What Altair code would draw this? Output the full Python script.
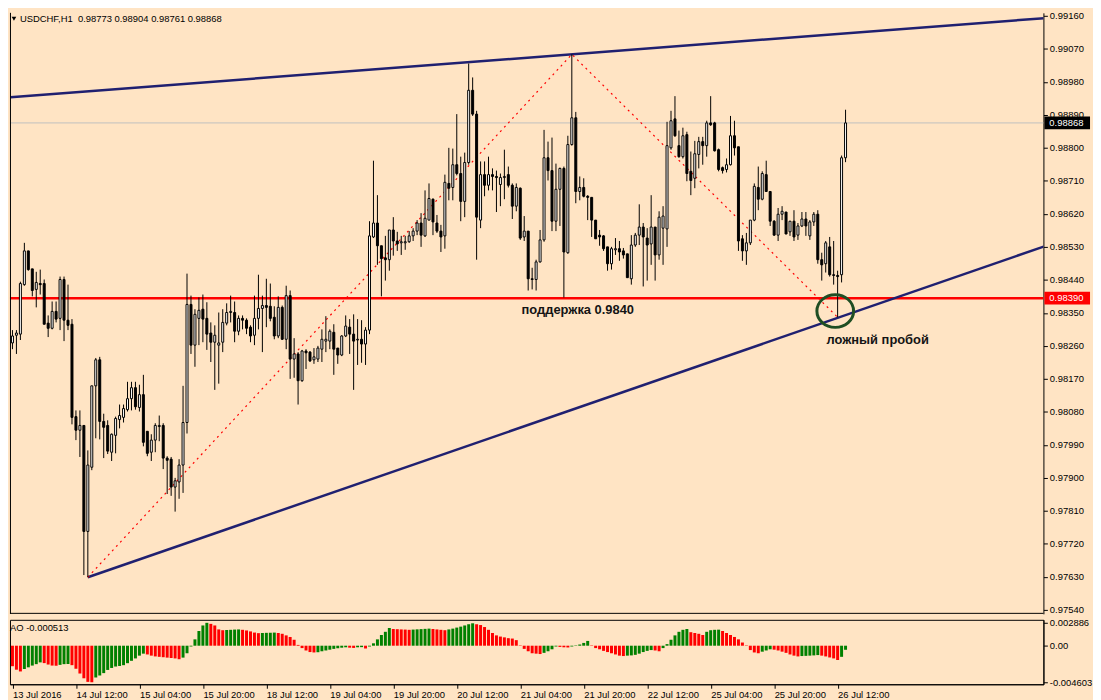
import json
import altair as alt
import pandas as pd

# ---------------- data ----------------
title_text = "USDCHF,H1\u00a0 0.98773 0.98904 0.98761 0.98868"
ao_text = "AO -0.000513"

tick_index = [0, 16, 32, 48, 64, 80, 96, 112, 128, 144, 160, 176, 192, 208]
tick_labels = ["13 Jul 2016", "14 Jul 12:00", "15 Jul 04:00", "15 Jul 20:00",
               "18 Jul 12:00", "19 Jul 04:00", "19 Jul 20:00", "20 Jul 12:00",
               "21 Jul 04:00", "21 Jul 20:00", "22 Jul 12:00", "25 Jul 04:00",
               "25 Jul 20:00", "26 Jul 12:00"]

price_ticks = [0.97540, 0.97630, 0.97720, 0.97810, 0.97900, 0.97990, 0.98080,
               0.98170, 0.98260, 0.98350, 0.98440, 0.98530, 0.98620, 0.98710,
               0.98800, 0.98890, 0.98980, 0.99070, 0.99160]
ao_ticks = [0.002886, 0.0, -0.004603]
ao_tick_labels = ["0.002886", "0.00", "-0.004603"]

open_ = [
    0.98268, 0.98289, 0.98292, 0.98427, 0.98519, 0.98470, 0.98414, 0.98430, 0.98430, 0.98322,
    0.98308, 0.98354, 0.98335, 0.98441, 0.98330, 0.98319, 0.98067, 0.98030, 0.98043, 0.97754,
    0.97929, 0.98151, 0.98222, 0.98054, 0.98043, 0.97970, 0.98016, 0.98059, 0.98065, 0.98086,
    0.98116, 0.98146, 0.98092, 0.98127, 0.98027, 0.97970, 0.98003, 0.98040, 0.98043, 0.97954,
    0.97951, 0.97875, 0.97889, 0.97935, 0.98051, 0.98373, 0.98262, 0.98335, 0.98360, 0.98335,
    0.98295, 0.98270, 0.98262, 0.98270, 0.98322, 0.98351, 0.98351, 0.98300, 0.98335, 0.98330,
    0.98311, 0.98289, 0.98335, 0.98362, 0.98370, 0.98368, 0.98338, 0.98287, 0.98365, 0.98278,
    0.98397, 0.98224, 0.98238, 0.98165, 0.98246, 0.98243, 0.98222, 0.98224, 0.98251, 0.98273,
    0.98273, 0.98297, 0.98254, 0.98235, 0.98287, 0.98311, 0.98292, 0.98276, 0.98278, 0.98265,
    0.98303, 0.98557, 0.98595, 0.98533, 0.98500, 0.98495, 0.98576, 0.98546, 0.98541, 0.98541,
    0.98544, 0.98560, 0.98573, 0.98595, 0.98560, 0.98603, 0.98660, 0.98595, 0.98573, 0.98560,
    0.98703, 0.98692, 0.98754, 0.98730, 0.98654, 0.98760, 0.98957, 0.98892, 0.98603, 0.98727,
    0.98698, 0.98727, 0.98722, 0.98700, 0.98719, 0.98727, 0.98698, 0.98641, 0.98690, 0.98557,
    0.98573, 0.98443, 0.98441, 0.98489, 0.98549, 0.98773, 0.98738, 0.98600, 0.98687, 0.98744,
    0.98514, 0.98809, 0.98882, 0.98681, 0.98692, 0.98668, 0.98665, 0.98603, 0.98562, 0.98560,
    0.98530, 0.98484, 0.98522, 0.98525, 0.98519, 0.98511, 0.98443, 0.98535, 0.98562, 0.98584,
    0.98554, 0.98538, 0.98584, 0.98508, 0.98581, 0.98579, 0.98800, 0.98879, 0.98806, 0.98776,
    0.98836, 0.98736, 0.98717, 0.98782, 0.98817, 0.98806, 0.98868, 0.98868, 0.98795, 0.98746,
    0.98741, 0.98754, 0.98833, 0.98803, 0.98552, 0.98519, 0.98541, 0.98603, 0.98692, 0.98660,
    0.98727, 0.98681, 0.98600, 0.98562, 0.98619, 0.98625, 0.98571, 0.98600, 0.98562, 0.98587,
    0.98606, 0.98560, 0.98598, 0.98619, 0.98495, 0.98484, 0.98530, 0.98454, 0.98452, 0.98454,
    0.98773]

high = [
    0.98303, 0.98303, 0.98435, 0.98541, 0.98519, 0.98470, 0.98462, 0.98468, 0.98441, 0.98343,
    0.98381, 0.98381, 0.98449, 0.98449, 0.98427, 0.98333, 0.98084, 0.98084, 0.98043, 0.97975,
    0.98151, 0.98227, 0.98230, 0.98075, 0.98057, 0.98021, 0.98067, 0.98100, 0.98100, 0.98162,
    0.98162, 0.98162, 0.98154, 0.98181, 0.98027, 0.98019, 0.98049, 0.98070, 0.98049, 0.97959,
    0.97957, 0.97900, 0.97951, 0.98151, 0.98457, 0.98397, 0.98360, 0.98392, 0.98400, 0.98379,
    0.98324, 0.98316, 0.98351, 0.98360, 0.98376, 0.98397, 0.98381, 0.98343, 0.98343, 0.98335,
    0.98316, 0.98397, 0.98454, 0.98397, 0.98443, 0.98430, 0.98368, 0.98395, 0.98370, 0.98424,
    0.98411, 0.98281, 0.98243, 0.98249, 0.98251, 0.98246, 0.98254, 0.98260, 0.98305, 0.98341,
    0.98305, 0.98319, 0.98254, 0.98289, 0.98343, 0.98333, 0.98346, 0.98333, 0.98330, 0.98311,
    0.98600, 0.98765, 0.98671, 0.98533, 0.98560, 0.98576, 0.98611, 0.98571, 0.98560, 0.98560,
    0.98573, 0.98581, 0.98603, 0.98622, 0.98684, 0.98703, 0.98662, 0.98617, 0.98590, 0.98727,
    0.98800, 0.98798, 0.98892, 0.98776, 0.98787, 0.99030, 0.98992, 0.98901, 0.98763, 0.98763,
    0.98776, 0.98744, 0.98738, 0.98730, 0.98795, 0.98749, 0.98703, 0.98703, 0.98692, 0.98614,
    0.98573, 0.98473, 0.98495, 0.98576, 0.98849, 0.98817, 0.98828, 0.98757, 0.98746, 0.98749,
    0.98833, 0.99055, 0.98898, 0.98722, 0.98717, 0.98671, 0.98665, 0.98603, 0.98576, 0.98562,
    0.98530, 0.98530, 0.98554, 0.98546, 0.98527, 0.98511, 0.98562, 0.98568, 0.98646, 0.98595,
    0.98581, 0.98671, 0.98584, 0.98627, 0.98641, 0.98871, 0.98901, 0.98941, 0.98847, 0.98855,
    0.98844, 0.98790, 0.98819, 0.98830, 0.98830, 0.98874, 0.98941, 0.98871, 0.98798, 0.98749,
    0.98771, 0.98887, 0.98874, 0.98803, 0.98562, 0.98568, 0.98603, 0.98703, 0.98749, 0.98736,
    0.98765, 0.98681, 0.98603, 0.98636, 0.98641, 0.98625, 0.98600, 0.98630, 0.98595, 0.98625,
    0.98625, 0.98603, 0.98625, 0.98630, 0.98514, 0.98546, 0.98557, 0.98546, 0.98465, 0.98779,
    0.98904]

low = [
    0.98251, 0.98238, 0.98276, 0.98424, 0.98465, 0.98395, 0.98365, 0.98400, 0.98319, 0.98284,
    0.98305, 0.98324, 0.98303, 0.98273, 0.98303, 0.98046, 0.98003, 0.97957, 0.97635, 0.97629,
    0.97921, 0.98008, 0.98005, 0.97954, 0.97965, 0.97946, 0.97967, 0.98035, 0.98051, 0.98081,
    0.98084, 0.98086, 0.98081, 0.97986, 0.97959, 0.97946, 0.97970, 0.98000, 0.97924, 0.97856,
    0.97851, 0.97808, 0.97843, 0.97859, 0.98021, 0.98238, 0.98203, 0.98262, 0.98270, 0.98249,
    0.98216, 0.98140, 0.98157, 0.98243, 0.98316, 0.98324, 0.98270, 0.98289, 0.98305, 0.98292,
    0.98270, 0.98262, 0.98305, 0.98243, 0.98311, 0.98327, 0.98278, 0.98281, 0.98276, 0.98251,
    0.98170, 0.98173, 0.98100, 0.98162, 0.98197, 0.98216, 0.98211, 0.98216, 0.98216, 0.98243,
    0.98251, 0.98181, 0.98211, 0.98232, 0.98284, 0.98238, 0.98140, 0.98208, 0.98214, 0.98208,
    0.98292, 0.98554, 0.98481, 0.98395, 0.98438, 0.98465, 0.98506, 0.98519, 0.98508, 0.98522,
    0.98541, 0.98546, 0.98562, 0.98530, 0.98557, 0.98603, 0.98562, 0.98568, 0.98516, 0.98525,
    0.98657, 0.98657, 0.98725, 0.98600, 0.98611, 0.98754, 0.98887, 0.98495, 0.98581, 0.98668,
    0.98684, 0.98684, 0.98625, 0.98641, 0.98660, 0.98692, 0.98606, 0.98627, 0.98549, 0.98546,
    0.98411, 0.98414, 0.98411, 0.98487, 0.98544, 0.98711, 0.98573, 0.98573, 0.98587, 0.98392,
    0.98511, 0.98806, 0.98649, 0.98657, 0.98665, 0.98603, 0.98557, 0.98552, 0.98533, 0.98519,
    0.98465, 0.98468, 0.98508, 0.98492, 0.98498, 0.98446, 0.98427, 0.98530, 0.98535, 0.98422,
    0.98438, 0.98481, 0.98438, 0.98495, 0.98481, 0.98530, 0.98795, 0.98830, 0.98773, 0.98771,
    0.98709, 0.98671, 0.98690, 0.98744, 0.98754, 0.98776, 0.98860, 0.98790, 0.98736, 0.98730,
    0.98733, 0.98752, 0.98779, 0.98519, 0.98492, 0.98481, 0.98535, 0.98600, 0.98630, 0.98657,
    0.98681, 0.98587, 0.98560, 0.98546, 0.98603, 0.98565, 0.98560, 0.98546, 0.98549, 0.98584,
    0.98560, 0.98549, 0.98587, 0.98484, 0.98438, 0.98460, 0.98449, 0.98427, 0.98338, 0.98433,
    0.98761]

close = [
    0.98287, 0.98295, 0.98430, 0.98519, 0.98468, 0.98411, 0.98433, 0.98427, 0.98319, 0.98308,
    0.98354, 0.98333, 0.98441, 0.98330, 0.98316, 0.98065, 0.98030, 0.98043, 0.97754, 0.97935,
    0.98151, 0.98222, 0.98054, 0.98038, 0.97973, 0.98019, 0.98062, 0.98070, 0.98089, 0.98116,
    0.98146, 0.98094, 0.98127, 0.97997, 0.97967, 0.98003, 0.98043, 0.98043, 0.97954, 0.97948,
    0.97875, 0.97892, 0.97935, 0.98051, 0.98373, 0.98262, 0.98346, 0.98357, 0.98333, 0.98292,
    0.98270, 0.98289, 0.98268, 0.98324, 0.98351, 0.98354, 0.98300, 0.98335, 0.98330, 0.98308,
    0.98287, 0.98335, 0.98362, 0.98370, 0.98365, 0.98335, 0.98287, 0.98365, 0.98278, 0.98397,
    0.98224, 0.98238, 0.98165, 0.98246, 0.98241, 0.98219, 0.98230, 0.98254, 0.98278, 0.98278,
    0.98300, 0.98251, 0.98235, 0.98287, 0.98314, 0.98292, 0.98273, 0.98278, 0.98265, 0.98303,
    0.98560, 0.98595, 0.98533, 0.98498, 0.98495, 0.98576, 0.98546, 0.98538, 0.98544, 0.98544,
    0.98560, 0.98573, 0.98595, 0.98562, 0.98608, 0.98662, 0.98598, 0.98573, 0.98557, 0.98706,
    0.98690, 0.98754, 0.98730, 0.98654, 0.98760, 0.98957, 0.98892, 0.98611, 0.98727, 0.98698,
    0.98727, 0.98722, 0.98719, 0.98719, 0.98722, 0.98698, 0.98641, 0.98692, 0.98554, 0.98573,
    0.98443, 0.98441, 0.98489, 0.98549, 0.98773, 0.98738, 0.98600, 0.98687, 0.98744, 0.98516,
    0.98809, 0.98882, 0.98681, 0.98692, 0.98668, 0.98665, 0.98603, 0.98552, 0.98557, 0.98525,
    0.98484, 0.98525, 0.98525, 0.98516, 0.98508, 0.98446, 0.98535, 0.98562, 0.98584, 0.98557,
    0.98535, 0.98584, 0.98508, 0.98611, 0.98614, 0.98806, 0.98874, 0.98833, 0.98776, 0.98833,
    0.98730, 0.98711, 0.98784, 0.98817, 0.98806, 0.98868, 0.98863, 0.98792, 0.98741, 0.98738,
    0.98754, 0.98833, 0.98800, 0.98546, 0.98519, 0.98541, 0.98603, 0.98695, 0.98660, 0.98730,
    0.98681, 0.98600, 0.98562, 0.98619, 0.98627, 0.98565, 0.98600, 0.98557, 0.98587, 0.98606,
    0.98587, 0.98598, 0.98619, 0.98495, 0.98481, 0.98541, 0.98454, 0.98452, 0.98449, 0.98773,
    0.98868]

ao = [
    -0.00258, -0.00302, -0.00324, -0.00293, -0.00272, -0.00250, -0.00232, -0.00210, -0.00219, -0.00237,
    -0.00250, -0.00252, -0.00241, -0.00232, -0.00230, -0.00245, -0.00290, -0.00350, -0.00410, -0.00455,
    -0.00460, -0.00400, -0.00375, -0.00345, -0.00305, -0.00280, -0.00262, -0.00255, -0.00245, -0.00220,
    -0.00190, -0.00160, -0.00125, -0.00100, -0.00110, -0.00125, -0.00135, -0.00140, -0.00145, -0.00150,
    -0.00155, -0.00160, -0.00170, -0.00150, -0.00095, -0.00010, 0.00080, 0.00185, 0.00255, 0.00288,
    0.00275, 0.00255, 0.00205, 0.00195, 0.00198, 0.00200, 0.00203, 0.00205, 0.00200, 0.00192,
    0.00180, 0.00165, 0.00158, 0.00160, 0.00162, 0.00163, 0.00165, 0.00160, 0.00150, 0.00130,
    0.00110, 0.00075, 0.00010, -0.00030, -0.00060, -0.00080, -0.00085, -0.00082, -0.00070, -0.00060,
    -0.00050, -0.00040, -0.00032, -0.00025, -0.00020, -0.00025, -0.00028, -0.00020, -0.00018, -0.00035,
    -0.00010, 0.00030, 0.00080, 0.00135, 0.00175, 0.00223, 0.00210, 0.00208, 0.00205, 0.00203,
    0.00200, 0.00203, 0.00206, 0.00209, 0.00212, 0.00215, 0.00210, 0.00205, 0.00200, 0.00195,
    0.00205, 0.00215, 0.00228, 0.00240, 0.00255, 0.00270, 0.00282, 0.00270, 0.00260, 0.00235,
    0.00200, 0.00160, 0.00130, 0.00115, 0.00105, 0.00095, 0.00090, 0.00070, 0.00005, -0.00040,
    -0.00070, -0.00095, -0.00100, -0.00105, -0.00090, -0.00070, -0.00045, -0.00010, -0.00015, -0.00020,
    -0.00022, -0.00010, 0.00005, 0.00015, 0.00035, 0.00060, 0.00005, -0.00030, -0.00045, -0.00065,
    -0.00080, -0.00095, -0.00110, -0.00125, -0.00130, -0.00125, -0.00122, -0.00115, -0.00100, -0.00080,
    -0.00065, -0.00055, -0.00060, -0.00070, -0.00030, 0.00020, 0.00075, 0.00130, 0.00175, 0.00200,
    0.00210, 0.00170, 0.00160, 0.00150, 0.00135, 0.00175, 0.00195, 0.00200, 0.00202, 0.00185,
    0.00160, 0.00135, 0.00110, 0.00080, 0.00040, 0.00005, -0.00055, -0.00085, -0.00095, -0.00075,
    -0.00060, -0.00045, -0.00050, -0.00060, -0.00075, -0.00090, -0.00110, -0.00125, -0.00135, -0.00130,
    -0.00128, -0.00125, -0.00122, -0.00118, -0.00125, -0.00135, -0.00148, -0.00160, -0.00180, -0.00140,
    -0.000513]

support_level = 0.98390
bid_price = 0.98868

upper_x = [-0.5, 264.0]
upper_p = [0.98938, 0.99157]
lower_x = [19.0, 264.0]
lower_p = [0.97629, 0.98546]
zig_x = [19, 141, 208]
zig_p = [0.97629, 0.99055, 0.98338]
circle_x = [207.4]
circle_p = [0.98355]
note_x = [142.5, 218.1]
note_p = [0.98359, 0.98275]
note_text = ["поддержка 0.9840", "ложный пробой"]

# ---------------- layout ----------------
W = 1042
H_MAIN = 606
H_AO = 65
FONT = "Liberation Sans"
BG = "#FFE4C4"
NAVY = "#202070"

n = len(close)
candles = pd.DataFrame({"idx": list(range(n)), "open": open_, "high": high,
                        "low": low, "close": close})
candles["fill"] = ["white" if c >= o else "black" for o, c in zip(open_, close)]

ao_df = pd.DataFrame({"idx": list(range(n)), "ao": ao})
ao_df["col"] = ["#008000" if (i > 0 and ao[i] > ao[i - 1]) else "#FF0000" for i in range(n)]

xs = alt.Scale(domain=[-0.625, -0.625 + W / 4], nice=False, zero=False, padding=0)
ys = alt.Scale(domain=[0.975292, 0.991682], nice=False, zero=False, padding=0)
y_axis = alt.Axis(orient="right", values=price_ticks, format=".5f", tickSize=4,
                  labelPadding=2, grid=False, title=None, labelOverlap=False)


def X(field):
    return alt.X(field, scale=xs, axis=None)


def Y(field):
    return alt.Y(field, scale=ys, axis=y_axis)


one = pd.DataFrame({"a": [0]})

borders = alt.layer(
    alt.Chart(one).mark_rule(color="black", strokeWidth=1).encode(
        x=alt.value(0.5), y=alt.value(0), y2=alt.value(H_MAIN)),
    alt.Chart(one).mark_rule(color="black", strokeWidth=1).encode(
        x=alt.value(0), x2=alt.value(W), y=alt.value(H_MAIN - 0.5)),
)

bid_line = alt.Chart(pd.DataFrame({"p": [bid_price]})).mark_rule(
    color="#C0C0C0", strokeWidth=1).encode(y=Y("p:Q"))

trend_df = pd.DataFrame({"x": upper_x + lower_x, "p": upper_p + lower_p,
                         "g": ["u", "u", "l", "l"]})
trends = alt.Chart(trend_df).mark_line(color=NAVY, strokeWidth=2.5, clip=True).encode(
    x=X("x:Q"), y=Y("p:Q"), detail="g:N")

zig = alt.Chart(pd.DataFrame({"x": zig_x, "p": zig_p})).mark_line(
    color="#FF0000", strokeWidth=1.2, strokeDash=[2, 4]).encode(x=X("x:Q"), y=Y("p:Q"))

support = alt.Chart(pd.DataFrame({"p": [support_level]})).mark_rule(
    color="#FF0000", strokeWidth=2.5).encode(y=Y("p:Q"))

wicks = alt.Chart(candles).mark_rule(color="black", strokeWidth=1).encode(
    x=X("idx:Q"), y=Y("low:Q"), y2="high:Q")

bodies = alt.Chart(candles).mark_bar(size=2, stroke="black", strokeWidth=1).encode(
    x=X("idx:Q"), y=Y("open:Q"), y2="close:Q", fill=alt.Fill("fill:N", scale=None))

ellipse = "M-1,0A1,0.89,0,1,1,1,0A1,0.89,0,1,1,-1,0Z"
circle = alt.Chart(pd.DataFrame({"x": circle_x, "p": circle_p})).mark_point(
    shape=ellipse, size=1369, filled=False, color="#1F4E23", strokeWidth=3,
    opacity=1).encode(x=X("x:Q"), y=Y("p:Q"))

notes = alt.Chart(pd.DataFrame({"x": note_x, "p": note_p, "t": note_text})).mark_text(
    font=FONT, fontSize=13, fontWeight="bold", color="#141414", align="center",
    baseline="middle").encode(x=X("x:Q"), y=Y("p:Q"), text="t:N")

box_df = pd.DataFrame({"p": [support_level, bid_price], "bg": ["#FF0000", "#000000"]})
boxes = alt.Chart(box_df).mark_point(
    shape="M-1,-0.28H1V0.28H-1Z", size=46 * 46, filled=True, opacity=1,
    strokeWidth=0).encode(x=alt.value(W + 24), y=Y("p:Q"),
                          fill=alt.Fill("bg:N", scale=None))
box_text = alt.Chart(box_df).mark_text(
    font=FONT, fontSize=9.5, color="white", align="left", baseline="middle").encode(
    x=alt.value(W + 6), y=Y("p:Q"), text=alt.Text("p:Q", format=".5f"))

title = alt.Chart(pd.DataFrame({"t": [title_text]})).mark_text(
    font=FONT, fontSize=9.5, color="black", align="left", baseline="middle").encode(
    x=alt.value(10), y=alt.value(6), text="t:N")
tri = alt.Chart(one).mark_point(shape="triangle-down", filled=True, color="black",
                                size=22, opacity=1).encode(x=alt.value(4), y=alt.value(6))

main = alt.layer(
    bid_line, support, trends, zig, wicks, bodies, circle, notes, boxes, box_text,
    borders, title, tri
).properties(width=W, height=H_MAIN, view=alt.ViewBackground(strokeWidth=0))

# ---------------- AO panel ----------------
ao_xs = alt.Scale(domain=[-0.625, -0.625 + W / 4], nice=False, zero=False, padding=0)
ao_ys = alt.Scale(domain=[-0.004853, 0.00326], nice=False, zero=False, padding=0)
x_label_expr = "{}[indexof({}, datum.value)]".format(json.dumps(tick_labels), json.dumps(tick_index))
ao_label_expr = "{}[indexof({}, datum.value)]".format(json.dumps(ao_tick_labels), json.dumps(ao_ticks))

x_axis = alt.Axis(values=tick_index, labelExpr=x_label_expr, labelAlign="left",
                  labelBaseline="top", labelPadding=1, tickSize=4, grid=False,
                  title=None, labelFlush=False, labelOverlap=False)
ao_axis = alt.Axis(orient="right", values=ao_ticks, labelExpr=ao_label_expr,
                   tickSize=4, labelPadding=2, grid=False, title=None,
                   labelOverlap=False)

ao_bars = alt.Chart(ao_df).mark_bar(size=3).encode(
    x=alt.X("idx:Q", scale=ao_xs, axis=x_axis),
    y=alt.Y("ao:Q", scale=ao_ys, axis=ao_axis),
    y2=alt.datum(0),
    fill=alt.Fill("col:N", scale=None))

ao_label = alt.Chart(pd.DataFrame({"t": [ao_text]})).mark_text(
    font=FONT, fontSize=9.5, color="black", align="left", baseline="middle").encode(
    x=alt.value(0), y=alt.value(8), text="t:N")

ao_panel = alt.layer(ao_bars, ao_label).properties(
    width=W, height=H_AO, view=alt.ViewBackground(stroke="black", strokeWidth=1))

chart = alt.vconcat(main, ao_panel, spacing=2).properties(
    background=BG, padding=0
).configure_view(stroke="black", strokeWidth=1).configure_axis(
    labelFont=FONT, labelFontSize=9.5, labelColor="black",
    domainColor="black", tickColor="black", domainWidth=1, tickWidth=1)

chart.save("out.html", embed_options={"renderer": "svg", "actions": False})
